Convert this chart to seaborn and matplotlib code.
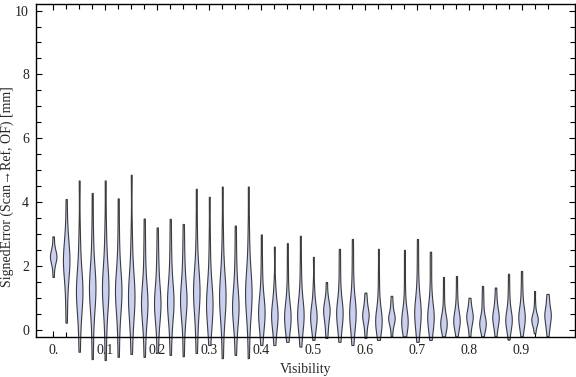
import numpy as np
import pandas as pd
import matplotlib
matplotlib.use("Agg")
import matplotlib.pyplot as plt
from matplotlib.ticker import FixedLocator
import seaborn as sns

# visibility bins (one violin per bin)
visibility = [0.0, 0.025, 0.05, 0.075, 0.1, 0.125, 0.15, 0.175, 0.2, 0.225,
              0.25, 0.275, 0.3, 0.325, 0.35, 0.375, 0.4, 0.425, 0.45, 0.475,
              0.5, 0.525, 0.55, 0.575, 0.6, 0.625, 0.65, 0.675, 0.7, 0.725,
              0.75, 0.775, 0.8, 0.825, 0.85, 0.875, 0.9, 0.925, 0.95]

# signed error samples [mm] per visibility bin
signed_error = [
    [1.66, 1.95, 2.1, 2.2, 2.25, 2.3, 2.35, 2.4, 2.5, 2.65, 2.93],
    [0.23, 0.9, 1.4, 1.7, 1.9, 2.05, 2.2, 2.3, 2.4, 2.6, 2.9, 3.3, 4.1],
    [-0.68, 0.0, 0.5, 0.8, 1.0, 1.1, 1.2, 1.3, 1.45, 1.6, 1.9, 2.4, 3.1, 4.68],
    [-0.91, -0.1, 0.5, 0.8, 1.0, 1.2, 1.3, 1.4, 1.55, 1.7, 2.0, 2.5, 3.2, 4.29],
    [-0.94, -0.1, 0.5, 0.85, 1.05, 1.2, 1.3, 1.4, 1.55, 1.75, 2.05, 2.6, 3.3, 4.68],
    [-0.84, -0.1, 0.4, 0.75, 0.95, 1.1, 1.2, 1.3, 1.45, 1.6, 1.9, 2.4, 3.1, 4.12],
    [-0.75, -0.1, 0.35, 0.65, 0.85, 0.95, 1.05, 1.15, 1.3, 1.5, 1.8, 2.3, 3.1, 4.86],
    [-0.84, -0.2, 0.2, 0.5, 0.65, 0.75, 0.85, 0.95, 1.1, 1.3, 1.6, 2.1, 2.7, 3.49],
    [-0.71, -0.15, 0.25, 0.5, 0.65, 0.75, 0.85, 0.95, 1.1, 1.3, 1.6, 2.0, 2.5, 3.21],
    [-0.78, -0.15, 0.25, 0.55, 0.7, 0.8, 0.9, 1.0, 1.15, 1.35, 1.65, 2.1, 2.7, 3.48],
    [-0.82, -0.1, 0.3, 0.6, 0.75, 0.85, 0.95, 1.05, 1.2, 1.4, 1.7, 2.1, 2.6, 3.32],
    [-0.72, -0.05, 0.4, 0.75, 0.95, 1.1, 1.2, 1.3, 1.45, 1.6, 1.9, 2.4, 3.2, 4.42],
    [-0.47, -0.05, 0.25, 0.5, 0.65, 0.75, 0.85, 0.95, 1.1, 1.3, 1.6, 2.1, 2.9, 4.17],
    [-0.88, -0.1, 0.35, 0.65, 0.85, 0.95, 1.05, 1.15, 1.3, 1.5, 1.8, 2.3, 3.1, 4.49],
    [-0.78, -0.2, 0.15, 0.4, 0.55, 0.65, 0.75, 0.85, 1.0, 1.2, 1.5, 1.9, 2.5, 3.27],
    [-0.88, -0.05, 0.4, 0.7, 0.9, 1.05, 1.15, 1.25, 1.4, 1.6, 1.9, 2.4, 3.2, 4.49],
    [-0.47, -0.15, 0.1, 0.3, 0.42, 0.5, 0.58, 0.66, 0.78, 0.95, 1.2, 1.6, 2.2, 2.99],
    [-0.47, -0.15, 0.05, 0.25, 0.36, 0.44, 0.5, 0.57, 0.68, 0.85, 1.1, 1.5, 2.61],
    [-0.37, -0.1, 0.08, 0.22, 0.32, 0.39, 0.45, 0.52, 0.62, 0.78, 1.0, 1.4, 2.0, 2.72],
    [-0.52, -0.15, 0.08, 0.25, 0.36, 0.44, 0.5, 0.57, 0.68, 0.85, 1.1, 1.5, 2.1, 2.95],
    [-0.31, -0.05, 0.12, 0.25, 0.34, 0.4, 0.46, 0.52, 0.62, 0.78, 1.0, 1.4, 2.29],
    [-0.25, 0.0, 0.2, 0.35, 0.48, 0.56, 0.62, 0.68, 0.78, 0.9, 1.1, 1.5],
    [-0.37, -0.1, 0.12, 0.3, 0.42, 0.5, 0.56, 0.62, 0.72, 0.88, 1.1, 1.5, 2.0, 2.54],
    [-0.47, -0.15, 0.1, 0.3, 0.42, 0.5, 0.56, 0.63, 0.75, 0.92, 1.2, 1.6, 2.2, 2.85],
    [-0.25, 0.0, 0.18, 0.3, 0.38, 0.44, 0.5, 0.56, 0.65, 0.78, 0.95, 1.17],
    [-0.31, -0.1, 0.05, 0.16, 0.24, 0.29, 0.33, 0.38, 0.47, 0.62, 0.85, 1.25, 1.8, 2.54],
    [-0.2, 0.05, 0.18, 0.27, 0.33, 0.37, 0.41, 0.46, 0.55, 0.68, 0.85, 1.07],
    [-0.2, -0.02, 0.1, 0.18, 0.23, 0.27, 0.31, 0.36, 0.45, 0.6, 0.85, 1.3, 1.9, 2.51],
    [-0.37, -0.1, 0.12, 0.3, 0.42, 0.5, 0.58, 0.66, 0.78, 0.95, 1.2, 1.6, 2.2, 2.85],
    [-0.31, -0.05, 0.1, 0.24, 0.34, 0.4, 0.46, 0.53, 0.64, 0.8, 1.05, 1.45, 2.0, 2.45],
    [-0.2, -0.05, 0.06, 0.13, 0.18, 0.22, 0.26, 0.31, 0.4, 0.55, 0.8, 1.2, 1.66],
    [-0.2, 0.0, 0.12, 0.2, 0.26, 0.31, 0.36, 0.42, 0.52, 0.68, 0.9, 1.25, 1.69],
    [-0.2, 0.05, 0.18, 0.28, 0.36, 0.42, 0.48, 0.55, 0.65, 0.8, 1.01],
    [-0.2, -0.05, 0.06, 0.13, 0.18, 0.22, 0.26, 0.31, 0.4, 0.55, 0.8, 1.05, 1.38],
    [-0.2, 0.02, 0.16, 0.26, 0.34, 0.4, 0.46, 0.53, 0.64, 0.8, 1.0, 1.33],
    [-0.3, -0.05, 0.1, 0.2, 0.27, 0.32, 0.37, 0.43, 0.54, 0.7, 0.95, 1.3, 1.76],
    [-0.2, 0.02, 0.16, 0.26, 0.34, 0.4, 0.46, 0.53, 0.64, 0.8, 1.05, 1.4, 1.85],
    [-0.1, 0.1, 0.2, 0.26, 0.3, 0.33, 0.36, 0.4, 0.47, 0.6, 0.85, 1.22],
    [-0.2, 0.02, 0.15, 0.26, 0.36, 0.44, 0.5, 0.56, 0.65, 0.78, 0.95, 1.13],
]

x_tick_vals = [0.0, 0.1, 0.2, 0.3, 0.4, 0.5, 0.6, 0.7, 0.8, 0.9]
x_tick_labels = ["0.", "0.1", "0.2", "0.3", "0.4", "0.5", "0.6", "0.7", "0.8", "0.9"]
y_tick_vals = [0, 2, 4, 6, 8, 10]

rows = []
for v, errs in zip(visibility, signed_error):
    for e in errs:
        rows.append((v, e))
df = pd.DataFrame(rows, columns=["Visibility", "SignedError"])

sns.set_style("ticks")
plt.rcParams["font.family"] = ["Liberation Serif", "DejaVu Serif"]

fig = plt.figure(figsize=(5.76, 3.77), dpi=100)
ax = fig.add_axes([0.0625, 0.106, 0.936, 0.883])

sns.violinplot(data=df, x="Visibility", y="SignedError", native_scale=True,
               cut=0, inner=None, density_norm="width", width=0.5,
               bw_adjust=0.7, color="#c9d0f2", saturation=1,
               linecolor="#3c3c3c", linewidth=0.8, ax=ax)

# violins hang below the frame in the original
for coll in ax.collections:
    coll.set_clip_on(False)

ax.set_xlim(-0.033, 1.003)
ax.set_ylim(-0.22, 10.2)

ax.set_xticks(x_tick_vals)
ax.set_xticklabels(x_tick_labels)
ax.xaxis.set_minor_locator(FixedLocator(visibility))
ax.set_yticks(y_tick_vals)
ax.set_yticklabels([str(t) for t in y_tick_vals])
ax.yaxis.set_minor_locator(FixedLocator(np.arange(0, 10.01, 0.5)))

ax.tick_params(which="both", direction="in", top=True, right=True,
               width=0.8, colors="black", labelsize=10, labelcolor="#222222")
ax.tick_params(which="major", length=4, pad=5)
ax.tick_params(which="minor", length=3.5)

for s in ax.spines.values():
    s.set_linewidth(1.0)
    s.set_color("black")

ax.set_xlabel("Visibility", fontsize=10, labelpad=4)
ax.set_ylabel("SignedError (Scan\u2192Ref, OF) [mm]", fontsize=10)
ax.yaxis.set_label_coords(-0.041, 0.452)

fig.savefig("out.png", dpi=100)
